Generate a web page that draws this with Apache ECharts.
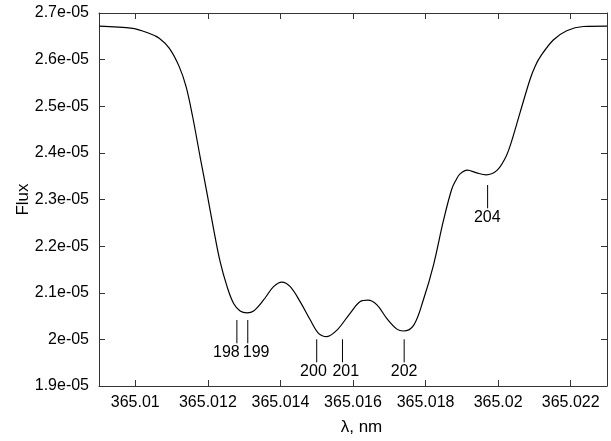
<!DOCTYPE html>
<html>
<head>
<meta charset="utf-8">
<script src="https://cdn.jsdelivr.net/npm/echarts@6/dist/echarts.min.js"></script>
<style>
html,body{margin:0;padding:0;background:#fff;}
#chart{width:611px;height:441px;}
</style>
</head>
<body>
<div id="chart"></div>
<script>
// wavelength (nm)
const lambda = [365.00901, 365.00993, 365.01039, 365.01066, 365.01094, 365.01121, 365.01140, 365.01158, 365.01179, 365.01198,
  365.01216, 365.01234, 365.01253, 365.01271, 365.01289, 365.01308, 365.01326, 365.01353, 365.01381, 365.01404,
  365.01427, 365.01455, 365.01482, 365.01505, 365.01528, 365.01556, 365.01592, 365.01620, 365.01641, 365.01666,
  365.01693, 365.01721, 365.01739, 365.01767, 365.01794, 365.01822, 365.01849, 365.01872, 365.01884, 365.01895,
  365.01915, 365.01941, 365.01967, 365.01996, 365.02019, 365.02033, 365.02061, 365.02088, 365.02102, 365.02116,
  365.02152, 365.02189, 365.02235, 365.02300];
// flux
const flux = [2.672e-5, 2.667e-5, 2.656e-5, 2.646e-5, 2.624e-5, 2.585e-5, 2.542e-5, 2.478e-5, 2.390e-5, 2.312e-5,
  2.236e-5, 2.166e-5, 2.113e-5, 2.077e-5, 2.061e-5, 2.057e-5, 2.061e-5, 2.084e-5, 2.113e-5, 2.123e-5,
  2.113e-5, 2.080e-5, 2.042e-5, 2.013e-5, 2.006e-5, 2.020e-5, 2.056e-5, 2.081e-5, 2.084e-5, 2.074e-5,
  2.045e-5, 2.022e-5, 2.018e-5, 2.030e-5, 2.085e-5, 2.160e-5, 2.254e-5, 2.322e-5, 2.342e-5, 2.355e-5,
  2.363e-5, 2.357e-5, 2.353e-5, 2.362e-5, 2.388e-5, 2.415e-5, 2.488e-5, 2.558e-5, 2.586e-5, 2.606e-5,
  2.642e-5, 2.662e-5, 2.671e-5, 2.672e-5];

// tick values
const xTicks = [365.010, 365.012, 365.014, 365.016, 365.018, 365.020, 365.022];
const yTicks = [1.9e-5, 2.0e-5, 2.1e-5, 2.2e-5, 2.3e-5, 2.4e-5, 2.5e-5, 2.6e-5, 2.7e-5];

// line annotations
const annNames = ['198', '199', '200', '201', '202', '204'];
const annLambda = [365.01280, 365.01310, 365.01500, 365.01571, 365.01741, 365.01971];
const annTop = [2.0416e-5, 2.0416e-5, 2.0002e-5, 2.0002e-5, 2.0002e-5, 2.3311e-5];
const annBottom = [1.9916e-5, 1.9916e-5, 1.9508e-5, 1.9508e-5, 1.9508e-5, 2.2811e-5];
const annLabelLambda = [365.01251, 365.01333, 365.01491, 365.01580, 365.01741, 365.01970];
const annLabelFlux = [1.9708e-5, 1.9708e-5, 1.9307e-5, 1.9307e-5, 1.9307e-5, 2.2603e-5];

const FONT = '"Liberation Sans", Arial, Helvetica, sans-serif';
const FS = 16;
const AX = '#333';

const xFmt = v => Number(v.toFixed(3)).toString();
const yFmt = v => (Math.round(v * 1e6) / 10).toString() + 'e-05';

const chart = echarts.init(document.getElementById('chart'), null, {renderer: 'canvas'});

const series = [{
  type: 'line',
  data: lambda.map((l, i) => [l, flux[i]]),
  smooth: 0.35,
  symbol: 'none',
  lineStyle: {color: '#000', width: 1.2},
  z: 3
}];
annNames.forEach((n, i) => {
  series.push({
    type: 'line',
    data: [[annLambda[i], annTop[i]], [annLambda[i], annBottom[i]]],
    symbol: 'none',
    lineStyle: {color: '#000', width: 1},
    silent: true
  });
});
series.push({
  type: 'scatter',
  symbolSize: 1,
  itemStyle: {opacity: 0},
  data: annNames.map((n, i) => ({value: [annLabelLambda[i], annLabelFlux[i]], name: n})),
  label: {
    show: true, position: 'inside', formatter: p => p.name, opacity: 1,
    color: '#000', fontFamily: FONT, fontSize: FS
  },
  silent: true
});

const commonX = {
  type: 'value', min: 365.009, max: 365.023,
  splitLine: {show: false},
  axisLine: {show: true, onZero: false, lineStyle: {color: AX, width: 1}},
  axisTick: {show: true, inside: true, length: 6, customValues: xTicks, lineStyle: {color: AX}}
};
const commonY = {
  type: 'value', min: 1.9e-5, max: 2.7e-5,
  splitLine: {show: false},
  axisLine: {show: true, onZero: false, lineStyle: {color: AX, width: 1}},
  axisTick: {show: true, inside: true, length: 6, customValues: yTicks, lineStyle: {color: AX}}
};

chart.setOption({
  animation: false,
  backgroundColor: '#fff',
  grid: {left: 99, top: 13, right: 4, bottom: 55, containLabel: false},
  xAxis: [
    Object.assign({}, commonX, {
      position: 'bottom',
      name: 'λ, nm', nameLocation: 'middle', nameGap: 33, nameMoveOverlap: false,
      nameTextStyle: {fontFamily: FONT, fontSize: 17, color: '#000', padding: [0, 0, 0, 17]},
      axisLabel: {customValues: xTicks, formatter: xFmt, fontFamily: FONT, fontSize: FS, color: '#000', margin: 9}
    }),
    Object.assign({}, commonX, {position: 'top', axisLabel: {show: false}})
  ],
  yAxis: [
    Object.assign({}, commonY, {
      position: 'left',
      name: 'Flux', nameLocation: 'middle', nameGap: 67, nameRotate: 90, nameMoveOverlap: false,
      nameTextStyle: {fontFamily: FONT, fontSize: 17, color: '#000'},
      axisLabel: {customValues: yTicks, formatter: yFmt, fontFamily: FONT, fontSize: FS, color: '#000', margin: 10}
    }),
    Object.assign({}, commonY, {position: 'right', axisLabel: {show: false}})
  ],
  series: series
});
</script>
</body>
</html>
